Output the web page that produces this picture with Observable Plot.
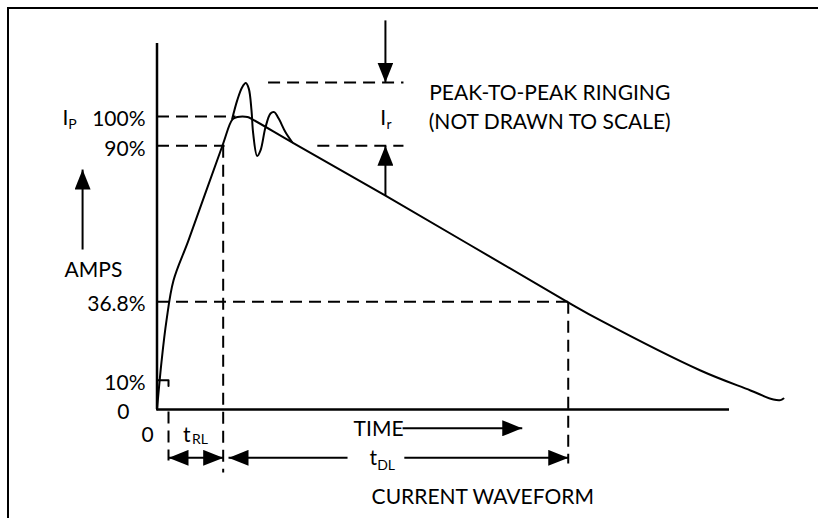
<!DOCTYPE html>
<html>
<head>
<meta charset="utf-8">
<script src="https://cdn.jsdelivr.net/npm/d3@7"></script>
<script src="https://cdn.jsdelivr.net/npm/@observablehq/plot@0.6"></script>
<style>
  html, body { margin: 0; padding: 0; background: #fff; }
  #wrap { position: relative; width: 818px; height: 518px; overflow: hidden; }
  #frame { position: absolute; left: 7px; top: 7px; width: 830px; height: 530px;
           border-top: 2px solid #000; border-left: 2px solid #000; pointer-events: none; }
  svg { display: block; }
</style>
</head>
<body>
<div id="wrap"><div id="frame"></div></div>
<script>
// ---- Waveform (time in arbitrary units, current in % of Ip) ----
const waveTime = [0, 0.8, 1.66, 2.88, 5.50, 11.44, 13.19, 14.06, 14.93, 15.81, 16.68, 23.67, 39.91, 71.88, 77.47, 94.93, 103.66, 107.68, 108.9, 109.43];
const waveAmps = [0, 16.5, 30.4, 44.0, 57.7, 90.1, 99.0, 99.8, 100, 99.8, 99.0, 91.1, 73.0, 36.5, 30.4, 13.3, 6.5, 3.4, 3.2, 3.75];

// ---- Ringing (not drawn to scale) ----
const ringTime = [13.14, 14.01, 14.88, 15.51, 16.03, 16.51, 16.80, 17.50, 18.08, 18.95, 19.83, 20.47, 21.28, 22.45, 23.62];
const ringAmps = [99.2, 105.5, 110.0, 111.4, 109.5, 102.0, 94.2, 86.5, 88.4, 96.3, 101.0, 101.5, 99.2, 94.6, 91.2];

// ---- Reference levels & times ----
const levelValues = [100, 90, 36.8, 10, 0];
const levelLabels = ["100%", "90%", "36.8%", "10%", "0"];
const ringTop = 111.6;
const t10 = 2.01;      // start of rise time
const t90 = 11.56;     // 90% crossing
const tDecay = 71.83;  // 36.8% crossing
const tRing = 39.9;    // where Ir is marked
const timeAxisEnd = 100;
const ampsAxisTop = 124.9;

// ---- Texts ----
const titleText = "CURRENT WAVEFORM";
const ringText = ["PEAK-TO-PEAK RINGING", "(NOT DRAWN TO SCALE)"];

// build tables
const wave = waveTime.map((t, i) => ({t, a: waveAmps[i]}));
const ring = ringTime.map((t, i) => ({t, a: ringAmps[i]}));

const dashes = [
  {x1: 0, y1: 100, x2: 13.7, y2: 100},
  {x1: 0, y1: 90, x2: 11.8, y2: 90},
  {x1: 28.0, y1: 90, x2: 43.05, y2: 90},
  {x1: 19.4, y1: ringTop, x2: 43.05, y2: ringTop},
  {x1: 0, y1: 36.8, x2: tDecay, y2: 36.8},
  {x1: t90, y1: 90, x2: t90, y2: -21.5},
  {x1: tDecay, y1: 36.8, x2: tDecay, y2: -18.4},
  {x1: t10, y1: -0.7, x2: t10, y2: -17.4}
];
const tick10 = [{t: 0, a: 10}, {t: t10, a: 10}, {t: t10, a: 8.0}];

const arrowsEnd = [
  {x1: tRing, y1: 132.8, x2: tRing, y2: ringTop},
  {x1: tRing, y1: 73.0, x2: tRing, y2: 90},
  {x1: -13.0, y1: 54.6, x2: -13.0, y2: 81.9},
  {x1: 42.9, y1: -6.4, x2: 63.8, y2: -6.4},
  {x1: 43.2, y1: -16.5, x2: tDecay, y2: -16.5}
];
const arrowsBoth = [{x1: t10, y1: -16.5, x2: t90, y2: -16.5}];
const arrowsStart = [{x1: 12.49, y1: -16.5, x2: 33.28, y2: -16.5}];

function tri(orient) {
  return (color) => {
    const ns = "http://www.w3.org/2000/svg";
    const m = document.createElementNS(ns, "marker");
    m.setAttribute("viewBox", "0 -8 20 16");
    m.setAttribute("markerWidth", 20);
    m.setAttribute("markerHeight", 16);
    m.setAttribute("markerUnits", "userSpaceOnUse");
    m.setAttribute("refX", 20);
    m.setAttribute("refY", 0);
    m.setAttribute("orient", orient);
    const p = document.createElementNS(ns, "path");
    p.setAttribute("d", "M0,-8L20,0L0,8Z");
    p.setAttribute("fill", color);
    p.setAttribute("stroke", "none");
    m.appendChild(p);
    return m;
  };
}
const endTri = tri("auto");
const startTri = tri("auto-start-reverse");

const levelTexts = levelValues.map((v, i) => ({t: v === 0 ? -4.8 : -2.0, a: v, label: levelLabels[i]}));

const middleTexts = [
  {t: 38.7, a: -6.8, label: "TIME"},
  {t: -11.1, a: 47.4, label: "AMPS"},
  {t: -1.66, a: -8.9, label: "0"},
  {t: 56.9, a: -30.0, label: titleText},
  {t: 68.6, a: 107.8, label: ringText[0]},
  {t: 68.6, a: 98.1, label: ringText[1]}
];
const startTexts = [
  {t: -16.5, a: 99.5, label: "I"},
  {t: 39.0, a: 99.5, label: "I"},
  {t: 4.55, a: -8.9, label: "t"},
  {t: 37.1, a: -16.7, label: "t"}
];
const subTexts = [
  {t: -15.5, a: 97.4, label: "P"},
  {t: 40.1, a: 97.4, label: "r"},
  {t: 6.1, a: -10.1, label: "RL"},
  {t: 38.45, a: -19.2, label: "DL"}
];

const font = "Lato, 'Open Sans', sans-serif";
const chart = Plot.plot({
  width: 818,
  height: 518,
  margin: 0,
  x: {domain: [0, 100], range: [156.5, 729], axis: null},
  y: {domain: [0, 100], range: [409, 116], axis: null},
  style: {fontFamily: font, color: "#000", background: "transparent"},
  marks: [
    Plot.link(dashes, {x1: "x1", y1: "y1", x2: "x2", y2: "y2", stroke: "#000", strokeWidth: 2, strokeDasharray: "12,7"}),
    Plot.line(tick10, {x: "t", y: "a", stroke: "#000", strokeWidth: 2}),
    Plot.ruleX([0], {y1: 0, y2: ampsAxisTop, stroke: "#000", strokeWidth: 2.5}),
    Plot.ruleY([0], {x1: 0, x2: timeAxisEnd, stroke: "#000", strokeWidth: 2.5}),
    Plot.line(wave, {x: "t", y: "a", curve: "catmull-rom", stroke: "#000", strokeWidth: 2}),
    Plot.line(ring, {x: "t", y: "a", curve: "catmull-rom", stroke: "#000", strokeWidth: 2}),
    Plot.link(arrowsEnd, {x1: "x1", y1: "y1", x2: "x2", y2: "y2", stroke: "#000", strokeWidth: 2, markerEnd: endTri}),
    Plot.link(arrowsBoth, {x1: "x1", y1: "y1", x2: "x2", y2: "y2", stroke: "#000", strokeWidth: 2, markerStart: startTri, markerEnd: endTri}),
    Plot.link(arrowsStart, {x1: "x1", y1: "y1", x2: "x2", y2: "y2", stroke: "#000", strokeWidth: 2, markerStart: startTri}),
    Plot.text(levelTexts, {x: "t", y: "a", text: "label", textAnchor: "end", lineAnchor: "middle", dy: 3, fontSize: 21, fill: "#000"}),
    Plot.text(middleTexts, {x: "t", y: "a", text: "label", textAnchor: "middle", lineAnchor: "middle", fontSize: 21, fill: "#000"}),
    Plot.text(startTexts, {x: "t", y: "a", text: "label", textAnchor: "start", lineAnchor: "middle", fontSize: 21, fill: "#000"}),
    Plot.text(subTexts, {x: "t", y: "a", text: "label", textAnchor: "start", lineAnchor: "middle", fontSize: 14, fill: "#000"})
  ]
});
document.getElementById("wrap").prepend(chart);
</script>
</body>
</html>
